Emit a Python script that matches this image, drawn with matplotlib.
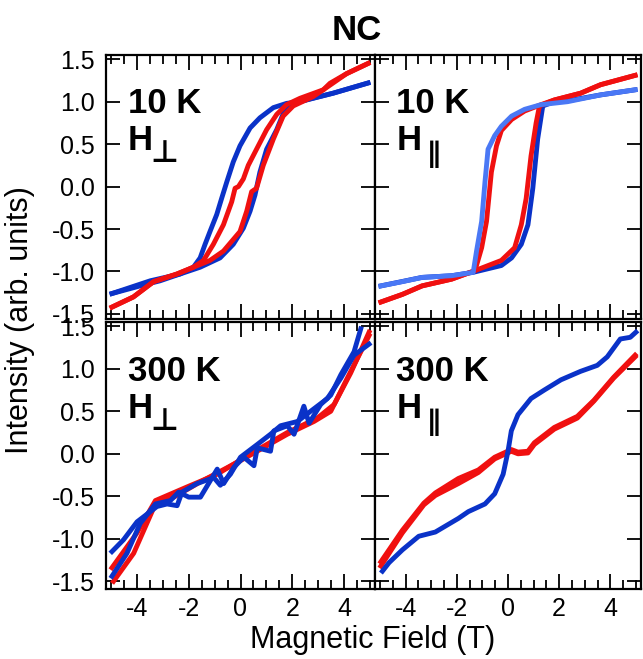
import matplotlib
matplotlib.use('Agg')
import matplotlib.pyplot as plt
from matplotlib.ticker import MultipleLocator

plt.rcParams['font.family'] = ['Liberation Sans', 'DejaVu Sans']
plt.rcParams['axes.unicode_minus'] = False

RED = '#f01010'
BLUE = '#0a32c8'
LIGHT_BLUE = '#4a78f5'

# ---- 10 K, H perpendicular ----
perp10_blue_down_h = [4.93, 3.58, 2.30, 1.78, 1.27, 0.75, 0.37, -0.02, -0.28, -0.53, -0.73, -0.92, -1.18, -1.37, -1.56, -1.82, -2.34, -3.11, -3.88, -4.97]
perp10_blue_down_m = [1.22, 1.10, 1.00, 0.98, 0.93, 0.81, 0.69, 0.48, 0.29, 0.055, -0.14, -0.33, -0.53, -0.68, -0.84, -0.95, -1.03, -1.11, -1.17, -1.26]
perp10_blue_up_h = [-4.97, -3.49, -2.34, -1.56, -0.79, -0.28, 0.11, 0.37, 0.56, 0.75, 1.01, 1.40, 1.72, 1.98, 3.58, 4.93]
perp10_blue_up_m = [-1.26, -1.11, -1.03, -0.95, -0.84, -0.68, -0.49, -0.29, -0.10, 0.17, 0.44, 0.67, 0.91, 0.98, 1.10, 1.22]
perp10_red_down_h = [4.93, 4.10, 3.46, 3.20, 2.30, 1.78, 1.40, 1.01, 0.62, 0.30, 0.11, -0.08, -0.21, -0.34, -0.66, -1.05, -1.43, -1.82, -2.46, -3.36, -4.14, -4.97]
perp10_red_down_m = [1.45, 1.33, 1.217, 1.14, 1.04, 0.965, 0.85, 0.67, 0.44, 0.25, 0.09, 0.0, -0.02, -0.18, -0.45, -0.68, -0.87, -0.95, -1.03, -1.12, -1.30, -1.42]
perp10_red_up_h = [-4.97, -4.14, -3.36, -2.46, -1.82, -1.18, -0.66, -0.02, 0.24, 0.43, 0.62, 0.88, 1.27, 1.65, 2.04, 2.81, 3.20, 4.10, 4.93]
perp10_red_up_m = [-1.42, -1.30, -1.12, -1.03, -0.95, -0.87, -0.76, -0.53, -0.29, -0.06, -0.02, 0.25, 0.56, 0.83, 0.95, 1.06, 1.14, 1.33, 1.45]

# ---- 10 K, H parallel ----
par10_blue_up_h = [-4.97, -3.36, -2.20, -1.36, -0.26, 0.14, 0.52, 0.78, 0.97, 1.16, 1.36, 1.81, 2.33, 3.62, 4.97]
par10_blue_up_m = [-1.17, -1.07, -1.05, -1.01, -0.93, -0.84, -0.68, -0.45, -0.02, 0.56, 0.95, 1.00, 1.01, 1.08, 1.14]
par10_lblue_down_h = [4.97, 3.62, 2.33, 1.29, 0.65, 0.14, -0.26, -0.52, -0.78, -0.90, -1.03, -1.23, -1.36, -2.20, -3.36, -4.13, -4.97]
par10_lblue_down_m = [1.14, 1.08, 1.00, 0.965, 0.91, 0.83, 0.71, 0.60, 0.44, 0.055, -0.41, -0.76, -1.01, -1.05, -1.07, -1.12, -1.17]
par10_red_down_h = [4.97, 3.62, 2.84, 1.81, 1.29, 0.65, 0.14, -0.26, -0.45, -0.65, -0.84, -1.03, -1.29, -2.20, -3.36, -4.13, -4.97]
par10_red_down_m = [1.31, 1.20, 1.10, 1.02, 0.965, 0.89, 0.79, 0.66, 0.48, 0.17, -0.41, -0.72, -0.99, -1.09, -1.17, -1.27, -1.36]
par10_red_up_h = [-4.97, -4.13, -3.36, -2.20, -1.29, -0.26, 0.26, 0.52, 0.71, 0.90, 1.10, 1.23, 1.81, 2.84, 3.62, 4.97]
par10_red_up_m = [-1.36, -1.27, -1.17, -1.09, -0.99, -0.87, -0.72, -0.45, -0.14, 0.36, 0.75, 0.95, 1.02, 1.10, 1.20, 1.31]

# ---- 300 K, H perpendicular ----
perp300_blue_a_h = [-4.97, -4.39, -3.88, -3.29, -2.71, -2.39, -2.00, -1.55, -0.90, -0.65, -0.26, 0.13, 0.52, 0.65, 1.16, 1.29, 1.81, 2.07, 2.45, 2.65, 3.10, 3.49, 3.88, 4.39, 4.65]
perp300_blue_a_m = [-1.44, -1.17, -0.82, -0.59, -0.55, -0.45, -0.51, -0.51, -0.18, -0.35, -0.16, -0.04, -0.14, 0.07, 0.03, 0.27, 0.33, 0.23, 0.56, 0.36, 0.58, 0.69, 0.93, 1.20, 1.47]
perp300_blue_b_h = [-4.97, -4.52, -4.00, -3.23, -2.84, -2.45, -2.26, -1.68, -1.03, -0.78, -0.39, 0.0, 0.65, 1.16, 1.55, 2.20, 2.71, 3.36, 3.88, 4.39, 4.97]
perp300_blue_b_m = [-1.15, -1.01, -0.80, -0.62, -0.59, -0.61, -0.45, -0.35, -0.28, -0.37, -0.24, -0.04, 0.11, 0.23, 0.33, 0.38, 0.50, 0.65, 0.89, 1.16, 1.29]
perp300_red_a_h = [-4.91, -4.13, -3.29, -2.58, -1.55, 0.0, 1.81, 2.84, 3.49, 4.13, 4.97]
perp300_red_a_m = [-1.50, -1.17, -0.59, -0.51, -0.33, -0.08, 0.23, 0.38, 0.50, 0.89, 1.39]
perp300_red_b_h = [-4.97, -4.00, -3.29, -2.07, -0.90, 0.39, 1.81, 2.97, 3.62, 4.26, 4.97]
perp300_red_b_m = [-1.34, -0.93, -0.55, -0.39, -0.24, 0.0, 0.25, 0.42, 0.58, 0.95, 1.43]

# ---- 300 K, H parallel ----
par300_blue_h = [-4.91, -4.65, -4.13, -3.49, -2.84, -1.94, -1.55, -0.90, -0.52, -0.19, 0.0, 0.13, 0.39, 0.90, 1.42, 2.07, 2.84, 3.49, 3.88, 4.39, 4.78, 5.00]
par300_blue_m = [-1.38, -1.28, -1.13, -0.97, -0.92, -0.76, -0.68, -0.59, -0.47, -0.24, 0.03, 0.27, 0.46, 0.65, 0.75, 0.87, 0.97, 1.04, 1.14, 1.35, 1.37, 1.43]
par300_red_a_h = [-4.97, -4.13, -3.29, -2.84, -1.94, -1.16, -0.52, 0.13, 0.39, 0.78, 1.03, 1.81, 2.71, 3.36, 4.13, 4.97]
par300_red_a_m = [-1.32, -0.93, -0.60, -0.49, -0.35, -0.22, -0.06, 0.03, 0.0, 0.01, 0.11, 0.29, 0.42, 0.62, 0.89, 1.14]
par300_red_b_h = [-4.97, -4.13, -3.29, -2.84, -1.94, -1.16, -0.52, 0.13, 0.39, 0.78, 1.03, 1.81, 2.71, 3.36, 4.13, 4.97]
par300_red_b_m = [-1.27, -0.90, -0.58, -0.46, -0.29, -0.19, -0.04, 0.05, 0.02, 0.03, 0.13, 0.31, 0.44, 0.63, 0.90, 1.16]

x_ticks = [-4, -2, 0, 2, 4]
y_ticks = [-1.5, -1.0, -0.5, 0.0, 0.5, 1.0, 1.5]

W, H = 643, 659
fig = plt.figure(figsize=(W / 100, H / 100), dpi=100)


def make_axes(left, right, top, bottom):
    return fig.add_axes([left / W, 1 - bottom / H, (right - left) / W, (bottom - top) / H])


ax_tl = make_axes(106, 375, 55, 319)
ax_tr = make_axes(375, 641, 55, 319)
ax_bl = make_axes(106, 375, 322, 589)
ax_br = make_axes(375, 641, 322, 589)

LW = 3.5


def style(ax, show_x, show_y, ylim):
    ax.set_xlim(-5.2, 5.2)
    ax.set_ylim(*ylim)
    ax.xaxis.set_major_locator(MultipleLocator(2))
    ax.xaxis.set_minor_locator(MultipleLocator(0.5))
    ax.set_yticks(y_ticks)
    ax.tick_params(which='both', direction='in', top=True, right=True, width=1.3,
                   labelsize=18, labelbottom=show_x, labelleft=show_y)
    ax.tick_params(which='major', length=11)
    ax.tick_params(which='minor', length=6.5)
    ax.tick_params(axis='y', which='major', length=10, pad=8)
    ax.tick_params(axis='x', which='major', pad=6)
    if show_x:
        ax.set_xticks(x_ticks)
        ax.set_xticklabels([str(t) for t in x_ticks])
    if show_y:
        ax.set_yticklabels(['%.1f' % t for t in y_ticks])
    for s in ax.spines.values():
        s.set_linewidth(1.6)


def label(ax, temp, sub, sub_x, sub_size):
    ax.text(0.08, 0.78, temp, transform=ax.transAxes, fontsize=25, fontweight='bold',
            va='baseline', ha='left')
    ax.text(0.08, 0.64, 'H', transform=ax.transAxes, fontsize=25, fontweight='bold',
            va='baseline', ha='left')
    ax.text(sub_x, 0.595, sub, transform=ax.transAxes, fontsize=sub_size, fontweight='bold',
            va='baseline', ha='left', family=['DejaVu Sans'])


# top left
ax_tl.plot(perp10_blue_down_h, perp10_blue_down_m, color=BLUE, lw=LW)
ax_tl.plot(perp10_blue_up_h, perp10_blue_up_m, color=BLUE, lw=LW)
ax_tl.plot(perp10_red_down_h, perp10_red_down_m, color=RED, lw=LW)
ax_tl.plot(perp10_red_up_h, perp10_red_up_m, color=RED, lw=LW)
style(ax_tl, False, True, (-1.56, 1.55))
label(ax_tl, '10 K', '\u22a5', 0.165, 22)

# top right
ax_tr.plot(par10_blue_up_h, par10_blue_up_m, color=BLUE, lw=LW)
ax_tr.plot(par10_red_down_h, par10_red_down_m, color=RED, lw=LW)
ax_tr.plot(par10_red_up_h, par10_red_up_m, color=RED, lw=LW)
ax_tr.plot(par10_lblue_down_h, par10_lblue_down_m, color=LIGHT_BLUE, lw=LW)
style(ax_tr, False, False, (-1.56, 1.55))
label(ax_tr, '10 K', '\u2225', 0.195, 20)

# bottom left
ax_bl.plot(perp300_red_a_h, perp300_red_a_m, color=RED, lw=LW)
ax_bl.plot(perp300_red_b_h, perp300_red_b_m, color=RED, lw=LW)
ax_bl.plot(perp300_blue_a_h, perp300_blue_a_m, color=BLUE, lw=LW)
ax_bl.plot(perp300_blue_b_h, perp300_blue_b_m, color=BLUE, lw=LW)
style(ax_bl, True, True, (-1.59, 1.55))
label(ax_bl, '300 K', '\u22a5', 0.165, 22)

# bottom right
ax_br.plot(par300_red_a_h, par300_red_a_m, color=RED, lw=LW)
ax_br.plot(par300_red_b_h, par300_red_b_m, color=RED, lw=LW)
ax_br.plot(par300_blue_h, par300_blue_m, color=BLUE, lw=LW)
style(ax_br, True, False, (-1.59, 1.55))
label(ax_br, '300 K', '\u2225', 0.195, 20)

fig.text(357 / W, 1 - 30 / H, 'NC', fontsize=25, fontweight='bold', ha='center', va='center')
fig.text(20 / W, 1 - 320 / H, 'Intensity (arb. units)', fontsize=22, rotation=90,
         ha='center', va='center')
fig.text(373 / W, 1 - 640 / H, 'Magnetic Field (T)', fontsize=22, ha='center', va='center')

fig.savefig('out.png', dpi=100)
